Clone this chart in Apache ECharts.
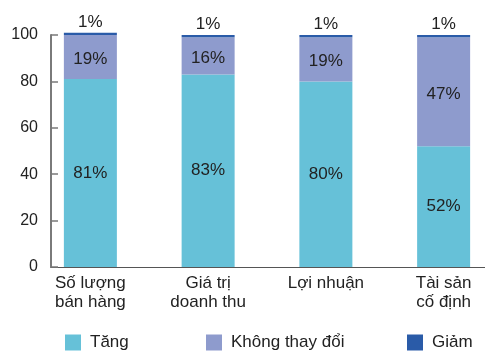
<!DOCTYPE html>
<html>
<head>
<meta charset="utf-8">
<script src="https://cdn.jsdelivr.net/npm/echarts@6/dist/echarts.min.js"></script>
<style>
  html, body { margin: 0; padding: 0; background: #fff; overflow: hidden; }
  /* canvas is a little wider than the window so the last band keeps its full width */
  #chart { width: 504px; height: 351px; }
</style>
</head>
<body>
<div id="chart"></div>
<script>
// Categories along the horizontal axis
const categories = ['Số lượng\nbán hàng', 'Giá trị\ndoanh thu', 'Lợi nhuận', 'Tài sản\ncố định'];

// Share of respondents (%) per category
const tang = [81, 83, 80, 52];          // Tăng
const khongThayDoi = [19, 16, 19, 47];  // Không thay đổi
const giam = [1, 1, 1, 1];              // Giảm

const yTicks = [0, 20, 40, 60, 80, 100];

const seriesNames = ['Tăng', 'Không thay đổi', 'Giảm'];
const colors = ['#66c1d8', '#8e9bcd', '#2a5ba8'];

const font = 'Liberation Sans, Arial, Helvetica, sans-serif';
const textColor = '#222';

const chart = echarts.init(document.getElementById('chart'), null, { renderer: 'canvas' });

const legendItem = (name, left) => ({
  data: [name],
  left: left,
  top: 334,
  icon: 'rect',
  itemWidth: 16,
  itemHeight: 16,
  selectedMode: false,
  textStyle: { fontFamily: font, fontSize: 17, color: textColor, padding: [0, 0, 0, 4] },
  padding: 0
});

const labelStyle = {
  show: true,
  fontFamily: font,
  fontSize: 17,
  color: textColor,
  formatter: p => p.value + '%'
};

const yMin = yTicks[0];
const yMax = yTicks[yTicks.length - 1];

chart.setOption({
  animation: false,
  backgroundColor: '#fff',
  color: colors,
  legend: [
    legendItem(seriesNames[0], 65),
    legendItem(seriesNames[1], 206),
    legendItem(seriesNames[2], 407)
  ],
  grid: [
    // frame: value axis and baseline
    { left: 51, width: 434, top: 35, bottom: 84 },
    // plotting area for the category bands
    { left: 31.5, width: 471, top: 35, bottom: 84 }
  ],
  xAxis: [
    {
      gridIndex: 0,
      type: 'value',
      min: 0,
      max: 1,
      splitLine: { show: false },
      axisTick: { show: false },
      axisLabel: { show: false },
      axisLine: { show: true, onZero: false, lineStyle: { color: '#555', width: 1 } }
    },
    {
      gridIndex: 1,
      type: 'category',
      data: categories,
      axisLine: { show: false },
      axisTick: { show: false },
      axisLabel: {
        interval: 0,
        fontFamily: font,
        fontSize: 17,
        color: textColor,
        lineHeight: 19,
        margin: 7
      }
    }
  ],
  yAxis: [
    {
      gridIndex: 0,
      type: 'value',
      min: yMin,
      max: yMax,
      interval: 20,
      splitLine: { show: false },
      axisLine: { show: true, onZero: false, lineStyle: { color: '#7a7a7a', width: 2 } },
      axisTick: { show: true, inside: true, length: 7, lineStyle: { color: '#7a7a7a', width: 1.5 } },
      axisLabel: { fontFamily: font, fontSize: 16, color: textColor, margin: 13 }
    },
    {
      gridIndex: 1,
      type: 'value',
      min: yMin,
      max: yMax,
      interval: 20,
      show: false
    }
  ],
  series: [
    {
      name: seriesNames[0],
      type: 'bar',
      xAxisIndex: 1,
      yAxisIndex: 1,
      stack: 'total',
      barWidth: 53,
      clip: false,
      data: tang,
      label: Object.assign({}, labelStyle, { position: 'inside' })
    },
    {
      name: seriesNames[1],
      type: 'bar',
      xAxisIndex: 1,
      yAxisIndex: 1,
      stack: 'total',
      barWidth: 53,
      clip: false,
      data: khongThayDoi,
      label: Object.assign({}, labelStyle, { position: 'inside', offset: [0, 2] })
    },
    {
      name: seriesNames[2],
      type: 'bar',
      xAxisIndex: 1,
      yAxisIndex: 1,
      stack: 'total',
      barWidth: 53,
      clip: false,
      data: giam,
      label: Object.assign({}, labelStyle, { position: 'top', distance: 2 })
    }
  ]
});
</script>
</body>
</html>
